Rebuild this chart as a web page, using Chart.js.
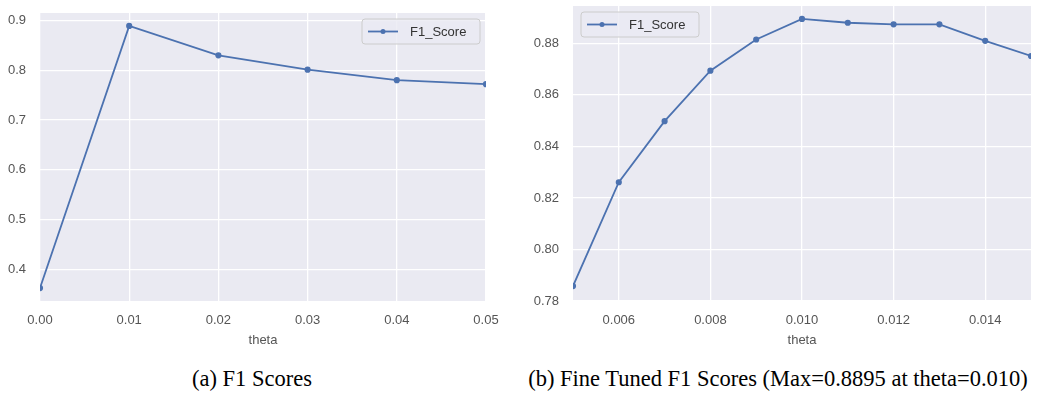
<!DOCTYPE html>
<html>
<head>
<meta charset="utf-8">
<script src="https://cdn.jsdelivr.net/npm/chart.js@4/dist/chart.umd.min.js"></script>
<style>
  body { margin: 0; background: #fff; width: 1051px; height: 395px; position: relative; overflow: hidden; }
  canvas { position: absolute; top: 0; }
  .caption { position: absolute; top: 366px; font-family: "Liberation Serif", "DejaVu Serif", serif; font-size: 22.5px; color: #000; white-space: nowrap; transform: translateX(-50%); }
</style>
</head>
<body>
<canvas id="chartA" width="500" height="348" style="left:0"></canvas>
<canvas id="chartB" width="531" height="348" style="left:520px"></canvas>
<div class="caption" style="left:252px">(a) F1 Scores</div>
<div class="caption" style="left:778px">(b) Fine Tuned F1 Scores (Max=0.8895 at theta=0.010)</div>
<script>
// (a) coarse sweep
const thetaA = [0.00, 0.01, 0.02, 0.03, 0.04, 0.05];
const f1A = [0.362, 0.889, 0.830, 0.801, 0.780, 0.772];
const xTicksA = [0.00, 0.01, 0.02, 0.03, 0.04, 0.05];
const yTicksA = [0.4, 0.5, 0.6, 0.7, 0.8, 0.9];

// (b) fine sweep
const thetaB = [0.005, 0.006, 0.007, 0.008, 0.009, 0.010, 0.011, 0.012, 0.013, 0.014, 0.015];
const f1B = [0.7858, 0.8261, 0.8498, 0.8694, 0.8815, 0.8895, 0.8880, 0.8874, 0.8874, 0.8810, 0.8751];
const xTicksB = [0.006, 0.008, 0.010, 0.012, 0.014];
const yTicksB = [0.78, 0.80, 0.82, 0.84, 0.86, 0.88];

const lineColor = '#4C72B0';
const tickFont = { family: "'Liberation Sans', Arial, sans-serif", size: 13 };

// seaborn-like grey plot background
const plotBg = {
  id: 'plotBg',
  beforeDraw(chart) {
    const { ctx, chartArea: a } = chart;
    ctx.save();
    ctx.fillStyle = '#EAEAF2';
    ctx.fillRect(a.left, a.top, a.right - a.left, a.bottom - a.top);
    ctx.restore();
  }
};

// matplotlib style legend box inside the axes
const boxLegend = {
  id: 'boxLegend',
  afterDatasetsDraw(chart, args, opts) {
    const { ctx } = chart;
    const { x, y, w, h } = opts;
    ctx.save();
    ctx.beginPath();
    ctx.roundRect(x, y, w, h, 3);
    ctx.fillStyle = 'rgba(234,234,242,0.8)';
    ctx.fill();
    ctx.strokeStyle = '#cccccc';
    ctx.lineWidth = 1;
    ctx.stroke();
    const cy = y + h / 2;
    ctx.strokeStyle = lineColor;
    ctx.lineWidth = 1.8;
    ctx.beginPath();
    ctx.moveTo(x + 6, cy);
    ctx.lineTo(x + 36, cy);
    ctx.stroke();
    ctx.fillStyle = lineColor;
    ctx.beginPath();
    ctx.arc(x + 21, cy, 2.5, 0, Math.PI * 2);
    ctx.fill();
    ctx.fillStyle = '#333';
    ctx.font = "13px 'Liberation Sans', Arial, sans-serif";
    ctx.textBaseline = 'middle';
    ctx.fillText(chart.data.datasets[0].label, x + 48, cy + 1);
    ctx.restore();
  }
};

function makeChart(id, xs, ys, xTicks, yTicks, xDigits, yDigits, lim, layout) {
  return new Chart(document.getElementById(id), {
    type: 'line',
    data: {
      datasets: [{
        label: 'F1_Score',
        data: xs.map((x, i) => ({ x: x, y: ys[i] })),
        borderColor: lineColor,
        backgroundColor: lineColor,
        borderWidth: 1.8,
        pointRadius: 2.2,
        pointHoverRadius: 2.2,
        tension: 0
      }]
    },
    plugins: [plotBg, boxLegend],
    options: {
      responsive: false,
      animation: false,
      events: [],
      clip: 0,
      layout: { padding: layout.padding },
      plugins: {
        legend: { display: false },
        tooltip: { enabled: false },
        boxLegend: layout.legend
      },
      scales: {
        x: {
          type: 'linear',
          min: lim.xMin, max: lim.xMax,
          afterBuildTicks: (s) => { s.ticks = xTicks.map(v => ({ value: v })); },
          afterFit: (s) => { s.height = layout.xHeight; s.paddingLeft = 0; s.paddingRight = 0; },
          ticks: { autoSkip: false, maxRotation: 0, padding: 12, color: '#555', font: tickFont,
                   callback: (v) => Number(v).toFixed(xDigits) },
          grid: { color: '#ffffff', lineWidth: 1.3, drawTicks: false },
          border: { display: false },
          title: { display: true, text: 'theta', color: '#555', font: tickFont, padding: { top: 2, bottom: 0 } }
        },
        y: {
          type: 'linear',
          min: lim.yMin, max: lim.yMax,
          afterBuildTicks: (s) => { s.ticks = yTicks.map(v => ({ value: v })); },
          afterFit: (s) => { s.width = layout.yWidth; s.paddingTop = 0; s.paddingBottom = 0; },
          ticks: { autoSkip: false, padding: 14, color: '#555', font: tickFont,
                   callback: (v) => Number(v).toFixed(yDigits) },
          grid: { color: '#ffffff', lineWidth: 1.3, drawTicks: false },
          border: { display: false }
        }
      }
    }
  });
}

makeChart('chartA', thetaA, f1A, xTicksA, yTicksA, 2, 1,
  { xMin: 0, xMax: 0.05, yMin: 0.336, yMax: 0.915 },
  { padding: { top: 13, right: 14, bottom: 0, left: 0 }, yWidth: 40, xHeight: 47,
    legend: { x: 362, y: 19, w: 118, h: 25 } });

makeChart('chartB', thetaB, f1B, xTicksB, yTicksB, 3, 2,
  { xMin: 0.005, xMax: 0.015, yMin: 0.7800, yMax: 0.8945 },
  { padding: { top: 6, right: 20, bottom: 0, left: 0 }, yWidth: 53, xHeight: 47,
    legend: { x: 61, y: 12, w: 118, h: 25 } });
</script>
</body>
</html>
